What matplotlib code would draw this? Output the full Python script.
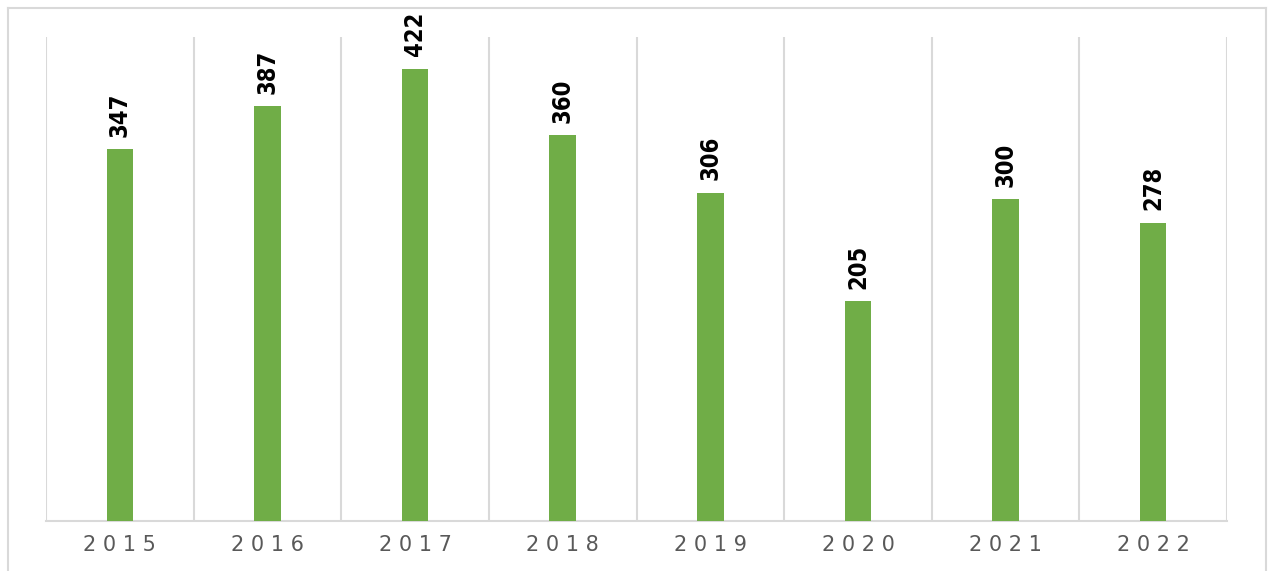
import matplotlib.pyplot as plt
from matplotlib.lines import Line2D

years = ["2015", "2016", "2017", "2018", "2019", "2020", "2021", "2022"]
values = [347, 387, 422, 360, 306, 205, 300, 278]

W, H = 1272, 571
fig = plt.figure(figsize=(W / 100, H / 100), dpi=100)
ax = fig.add_axes([46 / W, 1 - 521 / H, (1227 - 46) / W, (521 - 37) / H])

x = list(range(len(years)))
ax.bar(x, values, width=0.18, color="#70AD47", zorder=3)

for xi, v in zip(x, values):
    ax.annotate(str(v), (xi, v), xytext=(0, 9), textcoords="offset points",
                rotation=90, ha="center", va="bottom", fontsize=17,
                fontweight="semibold", fontstretch="condensed",
                family=["DejaVu Sans"], color="#000000")

ax.set_xlim(-0.5, len(years) - 0.5)
ax.set_ylim(0, 451.5)

# vertical grid at category edges
for b in range(len(years) + 1):
    ax.axvline(b - 0.5, color="#D9D9D9", lw=1.5, zorder=1)

for s in ["top", "right", "left"]:
    ax.spines[s].set_visible(False)
ax.spines["bottom"].set_color("#D9D9D9")
ax.spines["bottom"].set_linewidth(1.5)

ax.set_yticks([])
ax.set_xticks(x)
ax.set_xticklabels([" ".join(y) for y in years], fontsize=15, color="#595959")
ax.tick_params(axis="x", length=0, pad=10)

# outer chart frame
fc = "#D9D9D9"
fig.add_artist(Line2D([8 / W, 8 / W], [0, 1 - 8 / H], color=fc, lw=1.5))
fig.add_artist(Line2D([8 / W, 1266 / W], [1 - 8 / H, 1 - 8 / H], color=fc, lw=1.5))
fig.add_artist(Line2D([1266 / W, 1266 / W], [0, 1 - 8 / H], color=fc, lw=1.5))

fig.savefig("out.png", dpi=100)
